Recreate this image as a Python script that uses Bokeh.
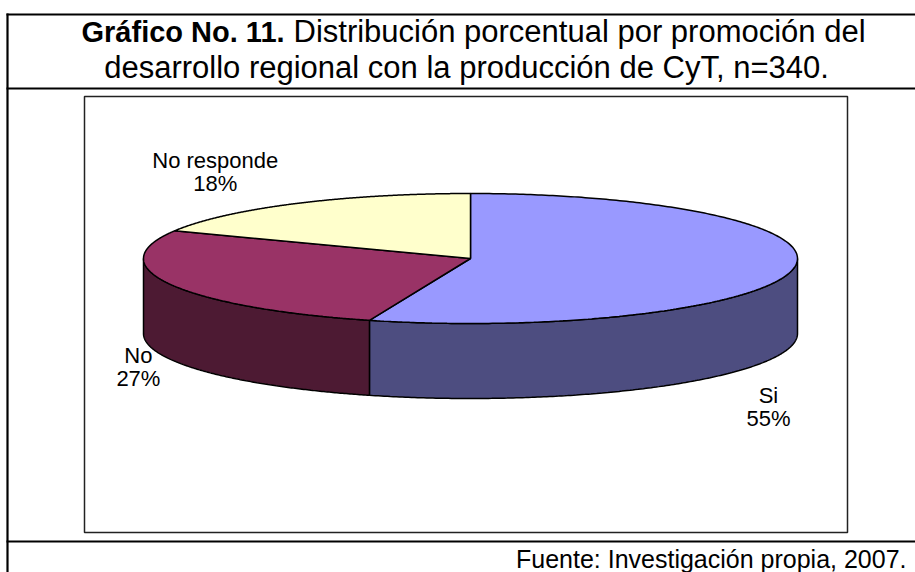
import numpy as np
from bokeh.plotting import figure
from bokeh.models import Range1d, ColumnDataSource
from bokeh.core.properties import value
from bokeh.embed import file_html
from bokeh.resources import INLINE

# ---- data ----
categories = ["Si", "No", "No responde"]
percents = [55, 27, 18]
top_colors = ["#9999FF", "#993366", "#FFFFCC"]
side_colors = ["#4D4D80", "#4D1A33", "#80804D"]
title_bold = "Gráfico No. 11."
title_rest = "Distribución porcentual por promoción del"
title_line2 = "desarrollo regional con la producción de CyT, n=340."
footer = "Fuente: Investigación propia, 2007."

# ---- layout (picture pixel coordinates) ----
W, H = 915, 572
CX, CY, A, B, DEPTH = 470, 258, 327, 65, 75
FONT = value("Liberation Sans")
BASE_SHIFT = 0.38  # renderer places alphabetic baseline ~0.38em low

p = figure(width=W, height=H, x_range=Range1d(0, W), y_range=Range1d(H, 0),
           output_backend="svg", toolbar_location=None, min_border=0,
           x_axis_location=None, y_axis_location=None)
p.grid.visible = False
p.outline_line_color = None
p.background_fill_color = "white"
p.border_fill_color = "white"

# table lines
p.segment(x0=[6, 6, 6], y0=[14, 88, 541], x1=[W, W, W], y1=[14, 88, 541],
          line_color="black", line_width=2.2)
p.segment(x0=[7], y0=[13], x1=[7], y1=[H], line_color="black", line_width=2.2)

# chart box
p.quad(left=[84], right=[847], top=[96], bottom=[532], fill_color="white",
       line_color="#222222", line_width=1.5)

# ---- pie geometry ----
fr = np.array(percents, dtype=float) / sum(percents)
cum = np.concatenate([[0], np.cumsum(fr)])
starts = 90 - 360 * cum[:-1]
ends = 90 - 360 * cum[1:]


def ex(t):
    return CX + A * np.cos(np.radians(t))


def ey(t):
    return CY - B * np.sin(np.radians(t))


side_xs, side_ys, side_c = [], [], []
for i in range(len(percents)):
    hi, lo = starts[i], ends[i]
    for k in range(-2, 2):
        a0, a1 = 180 + 360 * k, 360 + 360 * k
        l, h = max(lo, a0), min(hi, a1)
        if h - l > 0.01:
            t = np.linspace(l, h, 200)
            xs = list(ex(t)) + list(ex(t[::-1]))
            ys = list(ey(t)) + list(ey(t[::-1]) + DEPTH)
            side_xs.append(xs)
            side_ys.append(ys)
            side_c.append(side_colors[i])

p.patches(side_xs, side_ys, fill_color=side_c, line_color="black", line_width=1.5)

top_xs, top_ys = [], []
for i in range(len(percents)):
    t = np.linspace(starts[i], ends[i], 300)
    top_xs.append([CX] + list(ex(t)))
    top_ys.append([CY] + list(ey(t)))
p.patches(top_xs, top_ys, fill_color=top_colors, line_color="black", line_width=1.5)

# ---- labels ----
LBL = 22
mids = (starts + ends) / 2
label_offsets = [(-25, 60), (-32, 5), (-80, -35)]
lx, ly1, ly2 = [], [], []
for i, m in enumerate(mids):
    x = ex(m)
    y = ey(m) + (DEPTH if np.sin(np.radians(m)) < 0 else 0)
    dx, dy = label_offsets[i]
    lx.append(x + dx)
    ly1.append(y + dy - BASE_SHIFT * LBL)
    ly2.append(y + dy + 23 - BASE_SHIFT * LBL)
src = ColumnDataSource(dict(x=lx, y1=ly1, y2=ly2, name=categories,
                            pct=[f"{v}%" for v in percents]))
p.text(x="x", y="y1", text="name", source=src, text_font=FONT, text_font_size=f"{LBL}px",
       text_align="center", text_baseline="alphabetic", text_color="black")
p.text(x="x", y="y2", text="pct", source=src, text_font=FONT, text_font_size=f"{LBL}px",
       text_align="center", text_baseline="alphabetic", text_color="black")

# ---- title and footer ----
p.text(x=[81], y=[43 - BASE_SHIFT * 30], text=[title_bold], text_font=FONT, text_font_size="29px",
       text_font_style="bold", text_align="left", text_baseline="alphabetic", text_color="black")
p.text(x=[293], y=[43 - BASE_SHIFT * 31], text=[title_rest], text_font=FONT, text_font_size="31px",
       text_align="left", text_baseline="alphabetic", text_color="black")
p.text(x=[466], y=[79 - BASE_SHIFT * 31], text=[title_line2], text_font=FONT, text_font_size="31px",
       text_align="center", text_baseline="alphabetic", text_color="black")
p.text(x=[906], y=[568 - BASE_SHIFT * 25], text=[footer], text_font=FONT, text_font_size="25px",
       text_align="right", text_baseline="alphabetic", text_color="black")

open("out.html", "w").write(file_html(p, INLINE))
